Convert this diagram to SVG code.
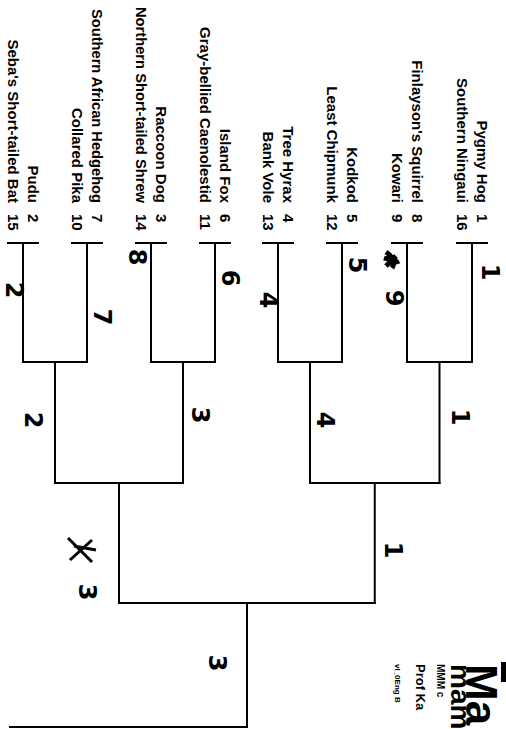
<svg xmlns="http://www.w3.org/2000/svg" width="506" height="729" viewBox="0 0 506 729">
<style>
.nm{font-family:"Liberation Sans",Arial,sans-serif;font-size:15px;font-weight:bold;fill:#000;text-anchor:end}
.sd{font-family:"Liberation Sans",Arial,sans-serif;font-size:15px;font-weight:bold;fill:#000;text-anchor:start}
.ln{fill:none;stroke:#000;stroke-width:2;stroke-linecap:square}
.hw{font-family:"DejaVu Sans","Liberation Sans",sans-serif;font-size:24px;font-weight:bold;fill:#000;text-anchor:middle}
.tt{font-family:"Liberation Sans",Arial,sans-serif;font-weight:bold;fill:#000;text-anchor:start}
</style>
<rect width="506" height="729" fill="#fff"/>
<g id="p1"><text class="nm" transform="translate(477,203) rotate(90)">Pygmy Hog</text><text class="sd" transform="translate(477,214) rotate(90)">1</text></g>
<g id="p16"><text class="nm" transform="translate(457,203) rotate(90)">Southern Ningaui</text><text class="sd" transform="translate(457,214) rotate(90)">16</text></g>
<g id="p8"><text class="nm" transform="translate(412,203) rotate(90)">Finlayson's Squirrel</text><text class="sd" transform="translate(412,214) rotate(90)">8</text></g>
<g id="p9"><text class="nm" transform="translate(392,203) rotate(90)">Kowari</text><text class="sd" transform="translate(392,214) rotate(90)">9</text></g>
<g id="p5"><text class="nm" transform="translate(347,203) rotate(90)">Kodkod</text><text class="sd" transform="translate(347,214) rotate(90)">5</text></g>
<g id="p12"><text class="nm" transform="translate(327,203) rotate(90)">Least Chipmunk</text><text class="sd" transform="translate(327,214) rotate(90)">12</text></g>
<g id="p4"><text class="nm" transform="translate(283,203) rotate(90)">Tree Hyrax</text><text class="sd" transform="translate(283,214) rotate(90)">4</text></g>
<g id="p13"><text class="nm" transform="translate(263,203) rotate(90)">Bank Vole</text><text class="sd" transform="translate(263,214) rotate(90)">13</text></g>
<g id="p6"><text class="nm" transform="translate(220,203) rotate(90)">Island Fox</text><text class="sd" transform="translate(220,214) rotate(90)">6</text></g>
<g id="p11"><text class="nm" transform="translate(200,203) rotate(90)">Gray-bellied Caenolestid</text><text class="sd" transform="translate(200,214) rotate(90)">11</text></g>
<g id="p3"><text class="nm" transform="translate(156,203) rotate(90)">Raccoon Dog</text><text class="sd" transform="translate(156,214) rotate(90)">3</text></g>
<g id="p14"><text class="nm" transform="translate(136,203) rotate(90)" textLength="196" lengthAdjust="spacingAndGlyphs">Northern Short-tailed Shrew</text><text class="sd" transform="translate(136,214) rotate(90)">14</text></g>
<g id="p7"><text class="nm" transform="translate(92,203) rotate(90)" textLength="194" lengthAdjust="spacingAndGlyphs">Southern African Hedgehog</text><text class="sd" transform="translate(92,214) rotate(90)">7</text></g>
<g id="p10"><text class="nm" transform="translate(72,203) rotate(90)">Collared Pika</text><text class="sd" transform="translate(72,214) rotate(90)">10</text></g>
<g id="p2"><text class="nm" transform="translate(28,203) rotate(90)">Pudu</text><text class="sd" transform="translate(28,214) rotate(90)">2</text></g>
<g id="p15"><text class="nm" transform="translate(8,203) rotate(90)">Seba's Short-tailed Bat</text><text class="sd" transform="translate(8,214) rotate(90)">15</text></g>
<g id="connectors">
<path class="ln" d="M457,243H487M472,243V362M392,243H422M407,243V362M327,243H357M342,243V362M263,243H293M278,243V362M200,243H230M215,243V362M136,243H166M151,243V362M72,243H102M87,243V362M8,243H38M23,243V362"/>
<path class="ln" d="M407,362H472M278,362H342M151,362H215M23,362H87"/>
<path class="ln" d="M439.5,362V483M310,362V483M183,362V483M55,362V483"/>
<path class="ln" d="M310,483H439.5M55,483H183M374.75,483V603M119,483V603"/>
<path class="ln" d="M119,603H374.75M247,603V727H10"/>
</g>
<g id="handwriting">
<text class="hw" transform="translate(482,272) rotate(90)">1</text>
<path d="M386,252C392,256 396,262 392,268M384,258C390,260 396,258 398,264M386,266L396,256" stroke="#000" stroke-width="5" fill="none"/>
<text class="hw" transform="translate(386,298) rotate(90)">9</text>
<text class="hw" transform="translate(349,265) rotate(90)">5</text>
<text class="hw" transform="translate(260,300) rotate(90)">4</text>
<text class="hw" transform="translate(222,278) rotate(90)">6</text>
<text class="hw" transform="translate(129,257) rotate(90)">8</text>
<text class="hw" transform="translate(94,317) rotate(90)">7</text>
<text class="hw" transform="translate(6,290) rotate(90)">2</text>
<text class="hw" transform="translate(192,415) rotate(90)">3</text>
<text class="hw" transform="translate(317,420) rotate(90)">4</text>
<text class="hw" transform="translate(452,417) rotate(90)">1</text>
<text class="hw" transform="translate(25,420) rotate(90)">2</text>
<text class="hw" transform="translate(385,550) rotate(90)">1</text>
<path d="M68,538L92,562M70,560L92,540M74,546L96,550" stroke="#000" stroke-width="3" fill="none"/>
<text class="hw" transform="translate(79,592) rotate(90)">3</text>
<text class="hw" transform="translate(209,663) rotate(90)">3</text>
</g>
<g id="title">
<rect x="501" y="662" width="5" height="20" fill="#000"/>
<text class="tt" font-size="44" transform="translate(466,664) rotate(90)">Ma</text>
<text class="tt" font-size="28" font-weight="normal" transform="translate(451,664) rotate(90)">mam</text>
<text class="tt" font-size="10" transform="translate(437,664) rotate(90)">MMM c</text>
<text class="tt" font-size="13" transform="translate(416,664) rotate(90)">Prof Ka</text>
<text class="tt" font-size="8" transform="translate(395,664) rotate(90)">vl_0Eng B</text>
</g>
</svg>
